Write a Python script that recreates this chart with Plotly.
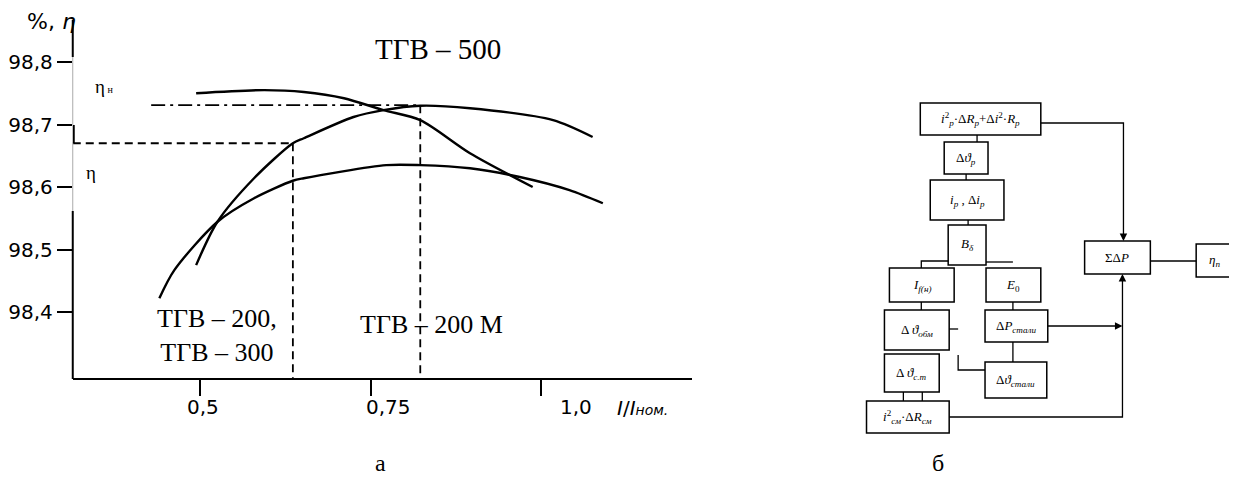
import plotly.graph_objects as go

# page is drawn with an 8px body margin, so the figure is 8px smaller and offset
OFF = 8
W, H = 1237 - OFF, 483 - OFF

# ---------------- data: chart (a) ----------------
x_tgv500 = [0.494, 0.594, 0.652, 0.711, 0.769, 0.823, 0.896, 0.988]
y_tgv500 = [98.750, 98.755, 98.752, 98.742, 98.723, 98.707, 98.654, 98.600]

x_tgv200m = [0.494, 0.525, 0.579, 0.636, 0.652, 0.725, 0.769, 0.823, 0.896, 1.018, 1.076]
y_tgv200m = [98.475, 98.544, 98.614, 98.670, 98.678, 98.712, 98.723, 98.730, 98.726, 98.707, 98.680]

x_tgv200_300 = [0.440, 0.462, 0.525, 0.579, 0.636, 0.652, 0.773, 0.823, 0.896, 0.969, 1.042, 1.091]
y_tgv200_300 = [98.422, 98.467, 98.544, 98.582, 98.610, 98.614, 98.635, 98.635, 98.630, 98.616, 98.595, 98.574]

eta_nom = 98.731      # dash-dot level (ηн)
x_nom = 0.823
x_nom_start = 0.428
eta_ref = 98.670      # dashed level (η)
x_ref = 0.636

x_ticks = [0.5, 0.75, 1.0]
x_tick_labels = ["0,5", "0,75", "1,0"]
y_ticks = [98.4, 98.5, 98.6, 98.7, 98.8]
y_tick_labels = ["98,4", "98,5", "98,6", "98,7", "98,8"]

x_range = [0.3129, 1.2222]
y_range = [98.2944, 98.8672]

# ---------------- block diagram (б) ----------------
boxes = [
    # (x0, x1, y0, y1, label)  in page pixels
    (919, 1040, 103, 135, "<i>i</i><sup>2</sup><sub><i>p</i></sub>·Δ<i>R</i><sub><i>p</i></sub>+Δ<i>i</i><sup>2</sup>·<i>R</i><sub><i>p</i></sub>"),
    (943, 987, 142, 174, "Δ<i>ϑ</i><sub><i>p</i></sub>"),
    (929, 1003, 180, 220, "<i>i</i><sub><i>p</i></sub> , Δ<i>i</i><sub><i>p</i></sub>"),
    (947, 985, 225, 265, "<i>B</i><sub><i>δ</i></sub>"),
    (888, 953, 268, 302, "<i>I</i><sub><i>f(н)</i></sub>"),
    (985, 1040, 268, 302, "<i>E</i><sub>0</sub>"),
    (883, 948, 310, 350, "Δ <i>ϑ</i><sub><i>обм</i></sub>"),
    (984, 1047, 310, 342, "Δ<i>P</i><sub><i>стали</i></sub>"),
    (883, 938, 354, 392, "Δ <i>ϑ</i><sub><i>с.т</i></sub>"),
    (984, 1046, 362, 398, "Δ<i>ϑ</i><sub><i>стали</i></sub>"),
    (865, 948, 401, 433, "<i>i</i><sup>2</sup><sub><i>см</i></sub>·Δ<i>R</i><sub><i>см</i></sub>"),
    (1084, 1150, 241, 274, "ΣΔ<i>P</i>"),
    (1196, 1233, 244, 277, "<i>η</i><sub><i>п</i></sub>"),
]

links = [
    [(976, 135), (976, 142)],
    [(965, 174), (965, 180)],
    [(967, 220), (967, 225)],
    [(947, 261), (920, 261), (920, 268)],
    [(985, 262), (1012, 262)],
    [(920, 302), (920, 310)],
    [(1012, 302), (1012, 310)],
    [(948, 329), (957, 329)],
    [(957, 355), (957, 370), (984, 370)],
    [(1012, 342), (1012, 362)],
    [(902, 392), (902, 401)],
    [(921, 392), (921, 401)],
    [(948, 417), (1122, 417), (1122, 278)],
    [(1047, 326), (1116, 326)],
    [(1040, 123), (1123, 123), (1123, 236)],
    [(1150, 261), (1196, 261)],
]


def px(x):
    return (x - OFF) / W


def py(y):
    return 1 - (y - OFF) / H


fig = go.Figure()

for xs, ys in [(x_tgv500, y_tgv500), (x_tgv200m, y_tgv200m), (x_tgv200_300, y_tgv200_300)]:
    fig.add_trace(go.Scatter(x=xs, y=ys, mode="lines", line=dict(color="black", width=2.4, shape="spline", smoothing=0.8),
                             showlegend=False, hoverinfo="skip"))

# reference lines
fig.add_trace(go.Scatter(x=[x_nom_start, x_nom], y=[eta_nom, eta_nom], mode="lines",
                         line=dict(color="black", width=1.8, dash="14px,5px,3px,5px"), showlegend=False, hoverinfo="skip"))
fig.add_trace(go.Scatter(x=[x_nom, x_nom], y=[eta_nom, y_range[0]], mode="lines",
                         line=dict(color="black", width=1.8, dash="8px,5px"), showlegend=False, hoverinfo="skip"))
fig.add_trace(go.Scatter(x=[x_range[0], x_ref], y=[eta_ref, eta_ref], mode="lines",
                         line=dict(color="black", width=1.8, dash="8px,5px"), showlegend=False, hoverinfo="skip"))
fig.add_trace(go.Scatter(x=[x_ref, x_ref], y=[eta_ref, y_range[0]], mode="lines",
                         line=dict(color="black", width=1.8, dash="8px,5px"), showlegend=False, hoverinfo="skip"))

shapes = []
# y-axis line (partly faded as in the scan)
for (y0, y1, col, wd, xx) in [(20, 57, "black", 2, 68), (57, 125, "#aaaaaa", 1, 68), (125, 143, "black", 2, 69),
                              (143, 211, "#aaaaaa", 1, 68), (211, 379, "black", 2, 68)]:
    shapes.append(dict(type="line", xref="paper", yref="paper", x0=px(xx), x1=px(xx), y0=py(y0), y1=py(y1),
                       line=dict(color=col, width=wd)))

for (x0, x1, y0, y1, _) in boxes:
    shapes.append(dict(type="rect", xref="paper", yref="paper", x0=px(x0), x1=px(x1), y0=py(y0), y1=py(y1),
                       line=dict(color="black", width=1.5), fillcolor="white"))
for pts in links:
    path = "M " + " L ".join(f"{px(a):.5f},{py(b):.5f}" for a, b in pts)
    shapes.append(dict(type="path", xref="paper", yref="paper", path=path, line=dict(color="black", width=1.3)))

annotations = []
serif = "Liberation Serif"
sans = "DejaVu Sans"


def label(x, y, text, size, family, **kw):
    d = dict(xref="paper", yref="paper", x=px(x), y=py(y), text=text, showarrow=False,
             xanchor="center", yanchor="middle", font=dict(family=family, size=size, color="black"))
    d.update(kw)
    return d


for (x0, x1, y0, y1, lab) in boxes:
    annotations.append(label((x0 + x1) / 2, (y0 + y1) / 2, lab, 13, serif))

# arrows in diagram
for (hx, hy, axo, ayo) in [(1122, 326, -8, 0), (1123, 241, 0, -8), (1122, 274, 0, 8)]:
    annotations.append(dict(xref="paper", yref="paper", x=px(hx), y=py(hy), ax=axo, ay=ayo, text="",
                            showarrow=True, arrowhead=2, arrowsize=1, arrowwidth=1.5, arrowcolor="black"))

# x tick labels (offset as in the original)
x_label_shift = [3, 18, 35]
for v, lab, sh in zip(x_ticks, x_tick_labels, x_label_shift):
    annotations.append(dict(xref="x", yref="paper", x=v, y=py(407), text=lab, showarrow=False, xshift=sh,
                            xanchor="center", yanchor="middle", font=dict(family=sans, size=20, color="black")))

annotations += [
    label(640, 408, "<i>I</i>/<i>I</i><span style='font-size:14px'><i>ном.</i></span>", 20, sans),
    label(47, 21, "%, <i>η</i>", 22, sans),
    label(435, 49, "ТГВ – 500", 29, serif),
    label(213, 335, "ТГВ – 200,<br>ТГВ – 300", 26, serif),
    label(428, 324, "ТГВ – 200 М", 26, serif),
    label(99, 86, "η<span style='font-size:10px'> н</span>", 19, serif),
    label(86, 172, "η", 19, serif),
    label(377, 463, "а", 24, serif),
    label(937, 463, "б", 24, serif),
]

fig.update_layout(
    width=W, height=H,
    margin=dict(l=0, r=0, t=0, b=0),
    paper_bgcolor="white", plot_bgcolor="rgba(0,0,0,0)",
    shapes=shapes, annotations=annotations,
    xaxis=dict(domain=[px(68), px(690)], range=x_range, showgrid=False, zeroline=False,
               showline=True, linecolor="black", linewidth=2,
               tickvals=x_ticks, ticks="outside", ticklen=16, tickwidth=1.5, tickcolor="black",
               showticklabels=False, fixedrange=True),
    yaxis=dict(domain=[py(378), py(20)], range=y_range, showgrid=False, zeroline=False, showline=False,
               tickvals=y_ticks, ticktext=y_tick_labels, ticks="outside", ticklen=15, tickwidth=1.5,
               tickcolor="black", tickfont=dict(family=sans, size=20, color="black"), fixedrange=True),
)

fig.write_html("out.html")
